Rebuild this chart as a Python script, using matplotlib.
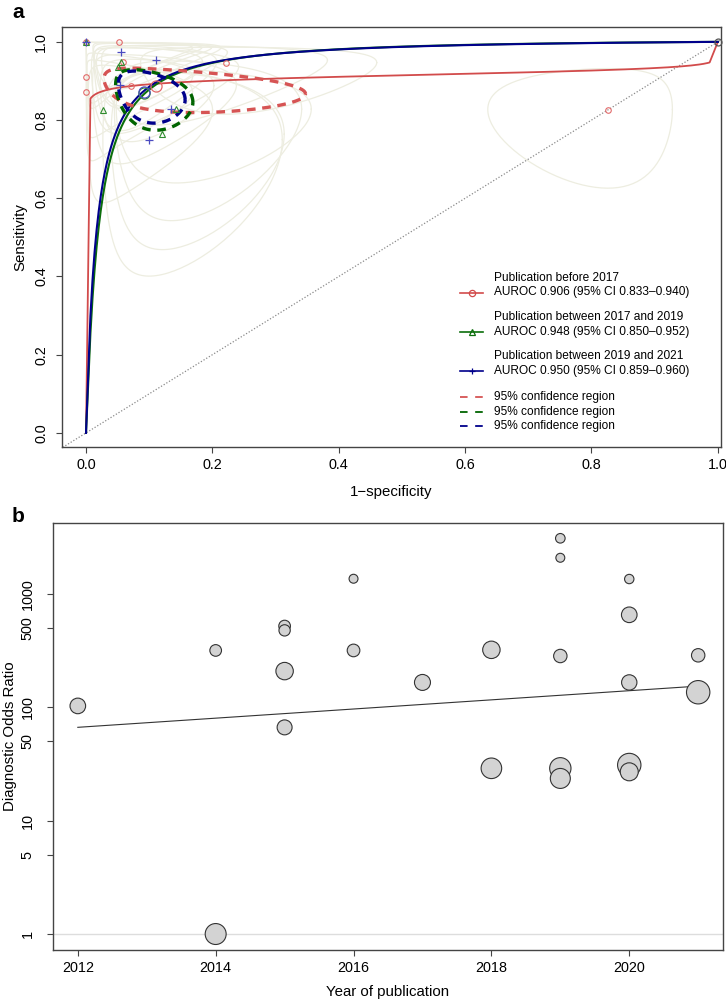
import numpy as np
import matplotlib
matplotlib.use('Agg')
import matplotlib.pyplot as plt

plt.rcParams['font.family'] = ['Liberation Sans', 'DejaVu Sans']

# ---------------- panel a: SROC data ----------------
group_labels = ['Publication before 2017', 'Publication between 2017 and 2019',
                'Publication between 2019 and 2021']
auroc_labels = ['AUROC 0.906 (95% CI 0.833\u20130.940)',
                'AUROC 0.948 (95% CI 0.850\u20130.952)',
                'AUROC 0.950 (95% CI 0.859\u20130.960)']

# study points (1-specificity, sensitivity)
red_fpr = [0.0, 0.052, 0.0, 0.0, 0.058, 0.071, 0.221, 0.826]
red_sens = [1.0, 1.0, 0.911, 0.873, 0.949, 0.888, 0.947, 0.827]
green_fpr = [0.0, 0.027, 0.05, 0.055, 0.143, 0.121]
green_sens = [1.0, 0.826, 0.936, 0.949, 0.828, 0.764]
blue_fpr = [0.0, 0.055, 0.111, 0.054, 0.135, 0.100]
blue_sens = [1.0, 0.973, 0.953, 0.890, 0.828, 0.750]
corner_point = (1.0, 1.0)

# per-study confidence ellipses (centre in ROC space, half-widths in logit units)
ell_fpr = [0.01, 0.052, 0.01, 0.01, 0.058, 0.071, 0.221, 0.826,
           0.01, 0.027, 0.05, 0.055, 0.143, 0.121,
           0.01, 0.055, 0.111, 0.054, 0.135, 0.100]
ell_sens = [0.985, 0.985, 0.911, 0.873, 0.949, 0.888, 0.947, 0.827,
            0.985, 0.826, 0.936, 0.949, 0.828, 0.764,
            0.985, 0.973, 0.953, 0.890, 0.828, 0.750]
ell_sx = [3.0, 1.6, 3.0, 3.0, 1.3, 1.2, 1.1, 1.0,
          3.2, 2.2, 1.8, 1.5, 1.2, 1.2,
          3.1, 1.6, 1.6, 1.7, 1.2, 1.4]
ell_sy = [2.5, 2.2, 1.2, 1.1, 1.3, 1.0, 1.4, 1.05,
          2.6, 1.2, 1.5, 1.7, 1.0, 1.3,
          2.4, 2.0, 1.7, 1.3, 1.4, 1.5]

# summary points and their 95% confidence regions
summ_fpr = [0.111, 0.091, 0.091]
summ_sens = [0.888, 0.870, 0.873]
conf_sx = [1.45, 0.71, 0.62]
conf_sy = [0.56, 0.67, 0.59]
conf_r = [-0.35, -0.30, -0.30]

# SROC curves: logit(sens) = a + b * logit(fpr)
sroc_a = [2.37, 4.40, 4.35]
sroc_b = [0.12, 1.104, 1.05]

# ---------------- panel b: meta-regression bubble data ----------------
years = [2012, 2014, 2014, 2015, 2015, 2015, 2015, 2016, 2016, 2017, 2018, 2018,
         2019, 2019, 2019, 2019, 2019, 2020, 2020, 2020, 2020, 2020, 2021, 2021]
dor = [103, 318, 1.0, 522, 478, 209, 66.6, 1365, 318, 166, 322, 29,
       3105, 2090, 284, 29, 23.6, 1357, 656, 166, 31, 27, 288, 136]
weights = [61, 34, 110, 34, 32, 76, 56, 20, 40, 64, 76, 106,
           23, 20, 45, 114, 100, 22, 61, 59, 137, 81, 45, 137]
reg_log10_at_2012 = 1.824
reg_slope = 0.0404


def logit(p):
    p = np.asarray(p, dtype=float)
    return np.log(p / (1 - p))


def expit(x):
    return 1 / (1 + np.exp(-x))


def ellipse(cf, cs, sx, sy, r=0.0, n=200):
    t = np.linspace(0, 2 * np.pi, n)
    u, v = np.cos(t), np.sin(t)
    lx = logit(cf) + sx * u
    ly = logit(cs) + sy * (r * u + np.sqrt(1 - r * r) * v)
    return expit(lx), expit(ly)


fig = plt.figure(figsize=(7.26, 10.01), dpi=100)
W, H = 726, 1001
ax = fig.add_axes([62 / W, 1 - 447 / H, (721 - 62) / W, (447 - 27) / H])
bx = fig.add_axes([53 / W, 1 - 950 / H, (723 - 53) / W, (950 - 523) / H])

line_cols = ['#D24B4B', '#0B6E0B', '#00008B']
pt_cols = ['#E26A6A', '#2E8B2E', '#4B4BC0']
dash_cols = ['#D65454', '#006400', '#00008B']

# faint study ellipses
for cf, cs, sx, sy in zip(ell_fpr, ell_sens, ell_sx, ell_sy):
    ex, ey = ellipse(cf, cs, sx, sy)
    ax.plot(ex, ey, color='#EDEDE0', lw=0.9, zorder=1)

ax.plot([-0.1, 1.1], [-0.1, 1.1], color='#8A8A8A', lw=0.9, ls=(0, (1, 1.5)), zorder=2)

grid = np.linspace(0.007, 0.987, 300)
for i in range(3):
    sens = expit(sroc_a[i] + sroc_b[i] * logit(grid))
    xs = np.concatenate([[0.0], grid, [1.0]])
    ys = np.concatenate([[0.0], sens, [1.0]])
    ax.plot(xs, ys, color=line_cols[i], lw=1.3 if i == 0 else 1.5, zorder=3)

for i in range(3):
    ex, ey = ellipse(summ_fpr[i], summ_sens[i], conf_sx[i], conf_sy[i], conf_r[i])
    ax.plot(ex, ey, color=dash_cols[i], lw=2.4, ls=(0, (2.6, 2.0)), zorder=4)

ax.plot(red_fpr, red_sens, 'o', ms=4, mfc='none', mec=pt_cols[0], mew=0.8, zorder=5)
ax.plot(green_fpr, green_sens, '^', ms=5, mfc='none', mec=pt_cols[1], mew=0.8, zorder=5)
ax.plot(blue_fpr, blue_sens, '+', ms=6, mec=pt_cols[2], mew=0.9, zorder=5)
ax.plot(*corner_point, 'o', ms=5, mfc='none', mec='#555555', mew=0.9, zorder=5, clip_on=False)
for i in range(3):
    ax.plot(summ_fpr[i], summ_sens[i], 'o', ms=8, mfc='none', mec=pt_cols[i], mew=0.9, zorder=6)

ax.set_xlim(-0.038, 1.005)
ax.set_ylim(-0.036, 1.038)
ticks = np.arange(0, 1.01, 0.2)
ax.set_xticks(ticks)
ax.set_xticklabels([f'{t:.1f}' for t in ticks])
ax.set_yticks(ticks)
ax.set_yticklabels([f'{t:.1f}' for t in ticks], rotation=90, va='center')
ax.set_xlabel('1\u2212specificity', fontsize=10.8, labelpad=9)
ax.set_ylabel('Sensitivity', fontsize=10.8, labelpad=5)

# manual legend (pixel positions converted to axes fraction)
def axf(px, py):
    return (px - 62) / 659, (447 - py) / 420

markers = ['o', '^', '+']
entry_y = [(278, 292.5), (316.7, 331.7), (355.7, 370.7)]
for i in range(3):
    y1, y2 = entry_y[i]
    x0, yy = axf(460, y2)
    x1, _ = axf(483, y2)
    xm, _ = axf(471.5, y2)
    ax.plot([x0, x1], [yy, yy], color=line_cols[i], lw=1.2, transform=ax.transAxes, clip_on=False)
    ax.plot([xm], [yy], markers[i], ms=5 if i else 4.5, mfc='none', mec=line_cols[i], mew=0.9,
            transform=ax.transAxes, clip_on=False)
    tx, ty1 = axf(494, y1)
    _, ty2 = axf(494, y2)
    ax.text(tx, ty1, group_labels[i], transform=ax.transAxes, fontsize=8.6, va='center', ha='left')
    ax.text(tx, ty2, auroc_labels[i], transform=ax.transAxes, fontsize=8.6, va='center', ha='left')
for i, py in enumerate([397.3, 411.7, 426]):
    x0, yy = axf(460, py)
    x1, _ = axf(483, py)
    ax.plot([x0, x1], [yy, yy], color=dash_cols[i], lw=1.3, ls=(0, (4.2, 4.2)),
            transform=ax.transAxes, clip_on=False)
    tx, _ = axf(494, py)
    ax.text(tx, yy, '95% confidence region', transform=ax.transAxes, fontsize=8.6,
            va='center', ha='left')

# ---------------- panel b ----------------
order = np.argsort(weights)[::-1]
yr = np.array(years)[order]
dr = np.array(dor)[order]
wt = np.array(weights)[order]
bx.axhline(1, color='#DDDDDD', lw=1, zorder=1)
xl = np.array([2012, 2021])
bx.plot(xl, 10 ** (reg_log10_at_2012 + reg_slope * (xl - 2012)), color='#333333', lw=0.8, zorder=2)
bx.scatter(yr, dr, s=2.07 * wt, facecolor='#D3D3D3', edgecolor='#333333', linewidth=0.8, zorder=3)

bx.set_yscale('log')
bx.set_xlim(2011.64, 2021.36)
bx.set_ylim(10 ** -0.141, 10 ** 3.627)
bx.set_xticks([2012, 2014, 2016, 2018, 2020])
bx.set_xticklabels(['2012', '2014', '2016', '2018', '2020'])
yt = [1, 5, 10, 50, 100, 500, 1000]
bx.set_yticks(yt)
bx.set_yticklabels([str(v) for v in yt], rotation=90, va='center')
bx.yaxis.set_minor_locator(matplotlib.ticker.NullLocator())
bx.set_xlabel('Year of publication', fontsize=10.8, labelpad=7)
bx.set_ylabel('Diagnostic Odds Ratio', fontsize=10.8, labelpad=3)

for a in (ax, bx):
    for s in a.spines.values():
        s.set_color('#444444')
        s.set_linewidth(1.0)
    a.tick_params(direction='out', length=4, width=0.8, color='#444444',
                  labelsize=10.4, pad=4)
    a.tick_params(axis='y', pad=6)
bx.tick_params(axis='y', pad=9)

fig.text(12 / W, 1 - 12 / H, 'a', fontsize=15, fontweight='bold', ha='left', va='center')
fig.text(12 / W, 1 - 517 / H, 'b', fontsize=15, fontweight='bold', ha='left', va='center')

fig.savefig('out.png', dpi=100, facecolor='white')
